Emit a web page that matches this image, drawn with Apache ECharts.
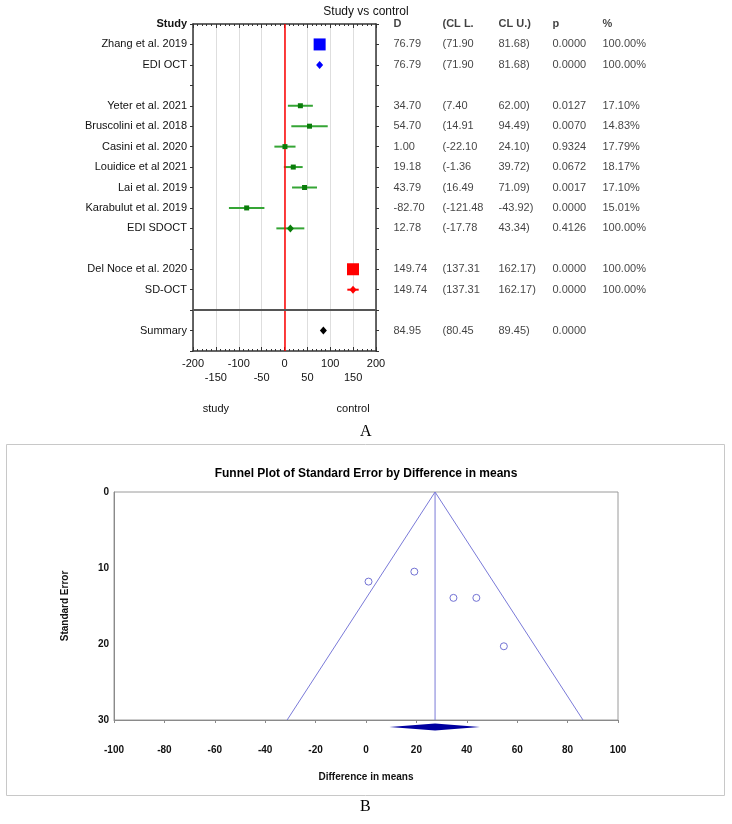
<!DOCTYPE html>
<html>
<head>
<meta charset="utf-8">
<script src="https://cdn.jsdelivr.net/npm/echarts@6/dist/echarts.min.js"></script>
<style>
html,body{margin:0;padding:0;background:#fff;}
#c{width:732px;height:824px;}
</style>
</head>
<body>
<div id="c"></div>
<script>
// ---------- Panel A: forest plot data ----------
var rowNames = ['Zhang et al. 2019','EDI OCT','','Yeter et al. 2021','Bruscolini et al. 2018','Casini et al. 2020',
  'Louidice et al 2021','Lai et al. 2019','Karabulut et al. 2019','EDI SDOCT','','Del Noce et al. 2020','SD-OCT','','Summary'];
var effectD = [76.79,76.79,null,34.70,54.70,1.00,19.18,43.79,-82.70,12.78,null,149.74,149.74,null,84.95];
var ciLow   = [71.90,71.90,null,7.40,14.91,-22.10,-1.36,16.49,-121.48,-17.78,null,137.31,137.31,null,80.45];
var ciHigh  = [81.68,81.68,null,62.00,94.49,24.10,39.72,71.09,-43.92,43.34,null,162.17,162.17,null,89.45];
var pValues = ['0.0000','0.0000','','0.0127','0.0070','0.9324','0.0672','0.0017','0.0000','0.4126','','0.0000','0.0000','','0.0000'];
var weights = ['100.00%','100.00%','','17.10%','14.83%','17.79%','18.17%','17.10%','15.01%','100.00%','','100.00%','100.00%','',''];
var tableHeaders = ['D','(CL L.','CL U.)','p','%'];
var sideLabels = {'-150':'study','150':'control'};

// ---------- Panel B: funnel plot data ----------
var funnelDiff = [34.70,54.70,1.00,19.18,43.79];
var funnelSE   = [13.93,20.30,11.79,10.48,13.93];
var pooledDiff = 27.4;
var pooledLow = 9.3, pooledHigh = 45.2;
var funnelLeftAt30 = -31.3, funnelRightAt30 = 86.1;
var funnelSEMax = 30;

// ---------- styling helpers ----------
var FONT = 'Liberation Sans, Arial, sans-serif';
function rowColor(i){
  if (i <= 1) return '#0000ff';
  if (i <= 9) return '#0a7d0a';
  if (i <= 12) return '#ff0000';
  return '#000000';
}
function lineColor(i){
  if (i <= 1) return '#0000ff';
  if (i <= 9) return '#35a535';
  if (i <= 12) return '#ff0000';
  return '#000000';
}
var pooledRows = {1:1, 9:1, 12:1, 14:1};
var bigRows = {0:1, 11:1};

var markerData = [], ciData = [];
effectD.forEach(function(d, i){
  if (d === null) return;
  var sym = pooledRows[i] ? 'diamond' : 'rect';
  var size = bigRows[i] ? [12,12] : (pooledRows[i] ? [7,8] : [5,5]);
  markerData.push({value:[d, i], symbol:sym, symbolSize:size, itemStyle:{color:rowColor(i), opacity:1}});
  ciData.push([ciLow[i], ciHigh[i], i]);
});

// table text data
var colX = [3, 52, 108, 162, 212];
var tableData = [];
tableHeaders.forEach(function(h, c){
  tableData.push({value:[colX[c], -1], label:{formatter:h, fontWeight:'bold'}});
});
effectD.forEach(function(d, i){
  if (d === null) return;
  var cells = [d.toFixed(2), '(' + ciLow[i].toFixed(2), ciHigh[i].toFixed(2) + ')', pValues[i], weights[i]];
  cells.forEach(function(t, c){
    if (t === '') return;
    tableData.push({value:[colX[c], i], label:{formatter:t}});
  });
});

var chart = echarts.init(document.getElementById('c'), null, {renderer:'canvas'});
var axisDark = {onZero:false, lineStyle:{color:'#333', width:1.5}};
var axisGray = {onZero:false, lineStyle:{color:'#8a8a8a'}};

var option = {
  backgroundColor:'#fff',
  animation:false,
  textStyle:{fontFamily:FONT},
  title:[
    {text:'Study vs control', left:'center', top:1, textStyle:{fontSize:12, fontWeight:'normal', color:'#111', fontFamily:FONT}},
    {text:'Funnel Plot of Standard Error by Difference in means', left:'center', top:463,
     textStyle:{fontSize:12, fontWeight:'bold', color:'#000', fontFamily:FONT}}
  ],
  graphic:[
    {type:'rect', shape:{x:6.5, y:444.5, width:718, height:351}, style:{fill:'none', stroke:'#c8c8c8', lineWidth:1}, silent:true},
    {type:'text', left:360, top:424, style:{text:'A', font:'16px Liberation Serif, serif', fill:'#000'}},
    {type:'text', left:360, top:799, style:{text:'B', font:'16px Liberation Serif, serif', fill:'#000'}}
  ],
  grid:[
    {left:193, width:183, top:24, height:327},
    {left:390, width:300, top:24, height:327},
    {left:114, width:504, top:492, height:228, show:true, borderColor:'#9a9a9a', borderWidth:1}
  ],
  xAxis:[
    {gridIndex:0, type:'value', position:'bottom', min:-200, max:200, interval:50,
     axisLine:axisDark, axisTick:{inside:true, length:4, lineStyle:{color:'#333'}},
     minorTick:{show:true, splitNumber:5, length:2, lineStyle:{color:'#333'}},
     splitLine:{show:true, lineStyle:{color:'#dedede', width:1}},
     axisLabel:{fontSize:11, color:'#111', margin:6, lineHeight:14,
       formatter:function(v){ return (Math.abs(v/50) % 2 === 1) ? '\n' + v : '' + v; }}},
    {gridIndex:0, type:'value', position:'top', min:-200, max:200, interval:50,
     axisLine:axisDark, axisTick:{inside:true, length:4, lineStyle:{color:'#333'}},
     minorTick:{show:true, splitNumber:5, length:2, lineStyle:{color:'#333'}},
     splitLine:{show:false}, axisLabel:{show:false}},
    {gridIndex:0, type:'value', position:'bottom', offset:44, min:-200, max:200, interval:50,
     axisLine:{show:false, onZero:false}, axisTick:{show:false}, splitLine:{show:false},
     axisLabel:{fontSize:11, color:'#111', formatter:function(v){ return sideLabels[String(v)] || ''; }}},
    {gridIndex:1, type:'value', min:0, max:300, show:false},
    {gridIndex:2, type:'value', min:-100, max:100, interval:20,
     axisLine:axisGray, axisTick:{length:3, lineStyle:{color:'#8a8a8a'}},
     splitLine:{show:false},
     axisLabel:{fontSize:10, fontWeight:'bold', color:'#111', margin:25},
     name:'Difference in means', nameLocation:'middle', nameGap:52,
     nameTextStyle:{fontSize:10, fontWeight:'bold', color:'#111'}}
  ],
  yAxis:[
    {gridIndex:0, type:'value', inverse:true, min:-1, max:15, interval:1,
     axisLine:axisDark, axisTick:{length:3, lineStyle:{color:'#333'}}, splitLine:{show:false},
     axisLabel:{fontSize:11, color:'#111', margin:6,
       formatter:function(v){ if (v === -1) return '{h|Study}'; return rowNames[v] || ''; },
       rich:{h:{fontWeight:'bold', fontSize:11, color:'#111'}}}},
    {gridIndex:0, type:'value', position:'right', inverse:true, min:-1, max:15, interval:1,
     axisLine:axisDark, axisTick:{length:3, lineStyle:{color:'#333'}}, splitLine:{show:false},
     axisLabel:{show:false}},
    {gridIndex:1, type:'value', inverse:true, min:-1, max:15, show:false},
    {gridIndex:2, type:'value', inverse:true, min:0, max:30, interval:10,
     axisLine:axisGray, axisTick:{show:false}, splitLine:{show:false},
     axisLabel:{fontSize:10, fontWeight:'bold', color:'#111', margin:5},
     name:'Standard Error', nameLocation:'middle', nameGap:44, nameRotate:90,
     nameTextStyle:{fontSize:10, fontWeight:'bold', color:'#111'}}
  ],
  series:[
    // CI lines
    {type:'custom', xAxisIndex:0, yAxisIndex:0, data:ciData, silent:true, clip:false, z:2,
     renderItem:function(params, api){
       var i = api.value(2);
       var p1 = api.coord([api.value(0), i]);
       var p2 = api.coord([api.value(1), i]);
       return {type:'line', shape:{x1:p1[0], y1:p1[1], x2:p2[0], y2:p2[1]},
               style:{stroke:lineColor(i), lineWidth:2}};
     }},
    // markers + reference lines
    {type:'scatter', xAxisIndex:0, yAxisIndex:0, data:markerData, silent:true, z:5,
     markLine:{silent:true, symbol:'none', label:{show:false}, animation:false, z:3,
       data:[
         {xAxis:0, lineStyle:{color:'#ff0000', width:1.5, type:'solid'}},
         {yAxis:13, lineStyle:{color:'#555', width:2, type:'solid'}}
       ]}},
    // table text
    {type:'scatter', xAxisIndex:3, yAxisIndex:2, data:tableData, symbolSize:1, silent:true,
     itemStyle:{color:'rgba(0,0,0,0)'},
     label:{show:true, position:'right', distance:0, fontSize:11, color:'#111', fontFamily:FONT}},
    // funnel sides
    {type:'line', xAxisIndex:4, yAxisIndex:3, data:[[funnelLeftAt30, funnelSEMax],[pooledDiff,0],[funnelRightAt30, funnelSEMax]],
     symbol:'none', lineStyle:{color:'#7a7ad8', width:1}, silent:true},
    {type:'line', xAxisIndex:4, yAxisIndex:3, data:[[pooledDiff,0],[pooledDiff,funnelSEMax]],
     symbol:'none', lineStyle:{color:'#7a7ad8', width:1}, silent:true},
    // study points
    {type:'scatter', xAxisIndex:4, yAxisIndex:3, silent:true, z:5,
     data:funnelDiff.map(function(d,i){ return [d, funnelSE[i]]; }),
     symbol:'circle', symbolSize:7, itemStyle:{color:'#ffffff', borderColor:'#7272d4', borderWidth:1, opacity:1}},
    // pooled diamond
    {type:'custom', xAxisIndex:4, yAxisIndex:3, data:[[pooledLow, pooledDiff, pooledHigh]], silent:true, clip:false,
     renderItem:function(params, api){
       var l = api.coord([api.value(0), funnelSEMax]);
       var c = api.coord([api.value(1), funnelSEMax]);
       var r = api.coord([api.value(2), funnelSEMax]);
       var y = c[1] + 7;
       return {type:'polygon', shape:{points:[[l[0],y],[c[0],y-3.5],[r[0],y],[c[0],y+3.5]]}, style:{fill:'#0000a0'}};
     }}
  ]
};
chart.setOption(option);
</script>
</body>
</html>
